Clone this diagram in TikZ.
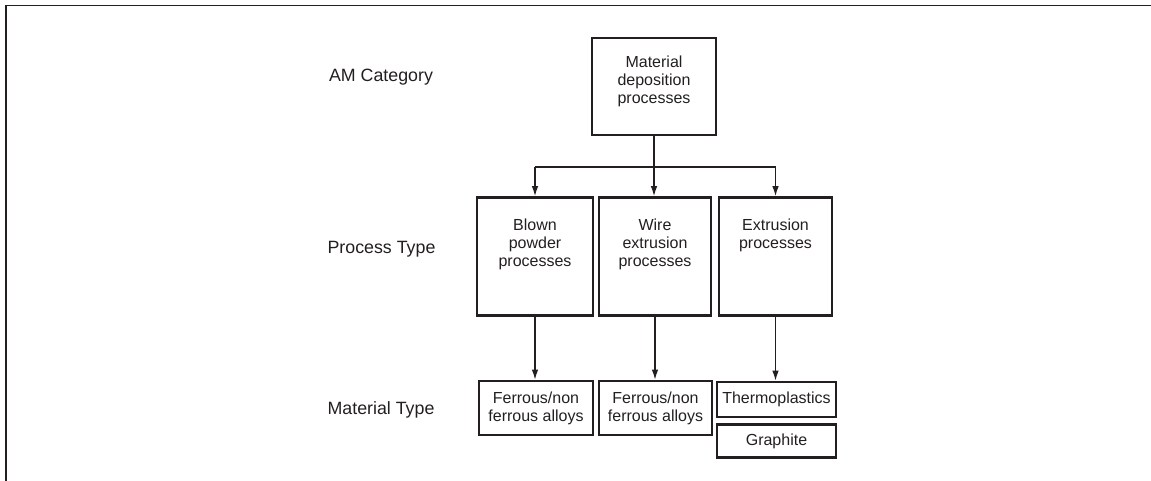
\documentclass[tikz,border=0pt]{standalone}
\usepackage{fontspec}
\setmainfont{Liberation Sans}
\usetikzlibrary{arrows.meta,calc}
\definecolor{ink}{HTML}{231F20}
\begin{document}
\begin{tikzpicture}[x=1pt,y=-1pt,
  boxs/.style={draw=ink,line width=2.6pt,inner sep=0pt,text=ink,align=center,
               font=\fontsize{16}{18}\selectfont},
  txt/.style={inner sep=0pt,text=ink,align=center,font=\fontsize{16}{18}\selectfont},
  rowlab/.style={inner sep=0pt,text=ink,font=\fontsize{17.8}{20}\selectfont},
  conn/.style={draw=ink,line width=1.3pt},
  arr/.style={conn,-{Latex[length=10pt,width=6.5pt]}}]
\useasboundingbox (0,0) rectangle (1151,481);
% frame
\draw[ink,line width=1.5pt] (6,482) -- (6,5.5) -- (1152,5.5);
% row labels
\node[rowlab] (lab1) at (381,77) {AM Category};
\node[rowlab] (lab2) at (381.5,249) {Process Type};
\node[rowlab] (lab3) at (381,410) {Material Type};
% top box
\node[boxs,minimum width=124pt,minimum height=97pt] (top) at (654,86.5) {};
\node[txt] (toptxt) at (654,81) {Material\\deposition\\processes};
% process boxes
\node[boxs,minimum width=116pt,minimum height=118pt] (b1) at (535,256.5) {};
\node[boxs,minimum width=112pt,minimum height=118pt] (b2) at (655,256.5) {};
\node[boxs,minimum width=113pt,minimum height=118pt] (b3) at (775.5,256.5) {};
\node[txt] (b1t) at (535,244) {Blown\\powder\\processes};
\node[txt] (b2t) at (655,244) {Wire\\extrusion\\processes};
\node[txt] (b3t) at (775.5,235) {Extrusion\\processes};
% material boxes
\node[boxs,minimum width=114pt,minimum height=54pt] (m1) at (536,408) {Ferrous/non\\ferrous alloys};
\node[boxs,minimum width=113pt,minimum height=54pt] (m2) at (655.5,408) {Ferrous/non\\ferrous alloys};
\node[boxs,minimum width=119pt,minimum height=35pt] (m3) at (776.5,399.5) {Thermoplastics};
\node[boxs,minimum width=119pt,minimum height=33pt] (m4) at (776.5,441) {Graphite};
% connectors
\coordinate (bus) at (654,167);
\draw[conn] (top.south) -- (bus);
\draw[conn] (b1.north |- bus) -- (b3.north |- bus);
\draw[arr] (b1.north |- bus) -- (b1.north);
\draw[arr] (bus) -- (bus |- b2.north);
\draw[arr] (b3.north |- bus) -- (b3.north);
\draw[arr] (b1.south) -- (b1.south |- m1.north);
\draw[arr] (b2.south) -- (b2.south |- m2.north);
\draw[arr] (b3.south) -- (b3.south |- m3.north);
\end{tikzpicture}
\end{document}
